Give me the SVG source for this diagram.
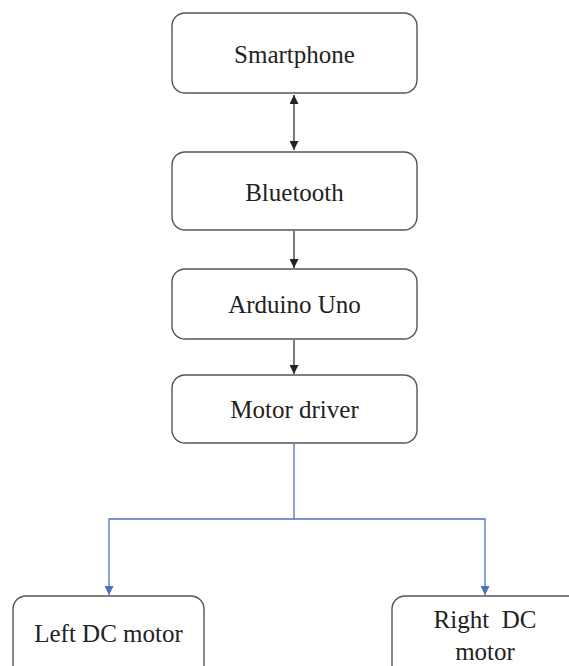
<svg xmlns="http://www.w3.org/2000/svg" width="569" height="666" viewBox="0 0 569 666">
<defs>
<marker id="ak" viewBox="0 0 10 10" refX="10" refY="5" markerWidth="9" markerHeight="9" markerUnits="userSpaceOnUse" orient="auto-start-reverse"><path d="M0,0L10,5L0,10z" fill="#222"/></marker>
<marker id="ab" viewBox="0 0 10 10" refX="10" refY="5" markerWidth="9" markerHeight="9" markerUnits="userSpaceOnUse" orient="auto"><path d="M0,0L10,5L0,10z" fill="#4a72c0"/></marker>
</defs>
<rect width="569" height="666" fill="#fff"/>
<g id="connectors" fill="none" stroke-width="1.3">
<g stroke="#333">
<line x1="294" y1="95" x2="294" y2="150" marker-start="url(#ak)" marker-end="url(#ak)"/>
<line x1="294" y1="231" x2="294" y2="268" marker-end="url(#ak)"/>
<line x1="294" y1="340" x2="294" y2="374" marker-end="url(#ak)"/>
</g>
<g stroke="#4a72c0">
<polyline points="294,444 294,519"/>
<polyline points="294,519 109,519 109,595" marker-end="url(#ab)"/>
<polyline points="294,519 485,519 485,595" marker-end="url(#ab)"/>
</g>
</g>
<g id="nodes" font-family="Liberation Serif" font-size="25" text-anchor="middle">
<g id="smartphone"><rect fill="#fff" stroke="#555" stroke-width="1.4" x="172" y="13" width="245" height="80" rx="13"/><text fill="#222" x="294.5" y="63">Smartphone</text></g>
<g id="bluetooth"><rect fill="#fff" stroke="#555" stroke-width="1.4" x="172" y="152" width="245" height="78" rx="13"/><text fill="#222" x="294.5" y="201">Bluetooth</text></g>
<g id="arduino"><rect fill="#fff" stroke="#555" stroke-width="1.4" x="172" y="269" width="245" height="70" rx="13"/><text fill="#222" x="294.5" y="313">Arduino Uno</text></g>
<g id="motordriver"><rect fill="#fff" stroke="#555" stroke-width="1.4" x="172" y="375" width="245" height="68" rx="13"/><text fill="#222" x="294.5" y="418">Motor driver</text></g>
<g id="leftmotor"><rect fill="#fff" stroke="#555" stroke-width="1.4" x="13" y="596" width="191" height="90" rx="13"/><text fill="#222" x="108.5" y="642">Left DC motor</text></g>
<g id="rightmotor"><rect fill="#fff" stroke="#555" stroke-width="1.4" x="392" y="596" width="190" height="90" rx="13"/><text fill="#222" x="485" y="628" xml:space="preserve">Right  DC</text><text fill="#222" x="485" y="660">motor</text></g>
</g>
</svg>
